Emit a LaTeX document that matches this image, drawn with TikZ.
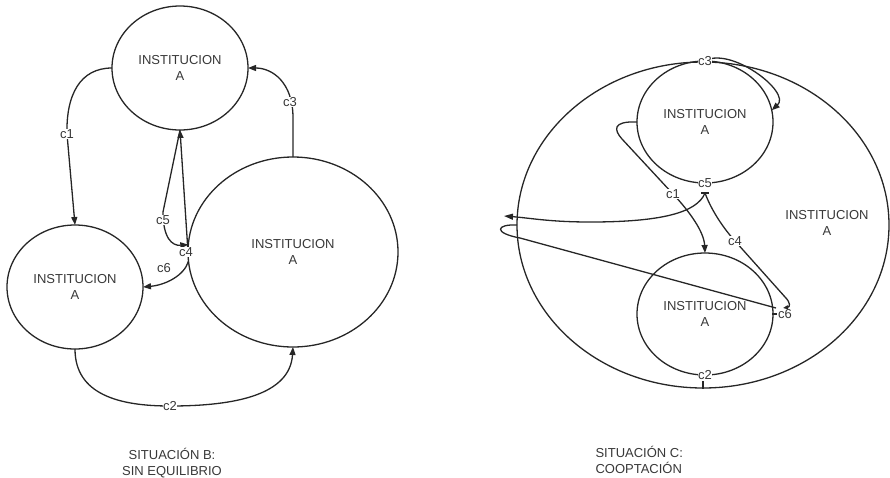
\documentclass[tikz,border=0pt]{standalone}
\usepackage{fontspec}
\setmainfont{Liberation Sans}
\usetikzlibrary{shapes.geometric,arrows.meta}
\begin{document}
\begin{tikzpicture}[x=1pt,y=-1pt,
  inst/.style={draw=black!85, line width=1.3pt, ellipse, inner sep=0pt, outer sep=0pt, align=center, font=\fontsize{13}{16}\selectfont, text=black!78},
  txt/.style={align=center, font=\fontsize{13}{16}\selectfont, text=black!78},
  conn/.style={draw=black!85, line width=1.3pt},
  arr/.style={conn, -{Triangle[length=8pt,width=6pt]}},
  lbl/.style={fill=white, inner sep=0.6pt, font=\fontsize{13}{14}\selectfont, text=black!78},
  captext/.style={font=\fontsize{13}{16}\selectfont, text=black!78}]
\useasboundingbox (0,0) rectangle (890,477);

% ---------------- Situation B ----------------
\node[inst, minimum width=136pt, minimum height=124pt] (tA) at (180,68) {INSTITUCION\\A};
\node[inst, minimum width=136pt, minimum height=124pt] (lA) at (75,287) {INSTITUCION\\A};
\node[inst, minimum width=210pt, minimum height=190pt] (bA) at (293,252) {INSTITUCION\\A};

\draw[arr] (tA.west) .. controls (80,68) and (66,95) .. (67,134) -- (lA.north);
\draw[arr] (bA.north) -- (293,118) .. controls (293,82) and (272,68) .. (tA.east);
\draw[arr] (lA.south) .. controls (75,395) and (120,406) .. (170,406) .. controls (235,406) and (290,395) .. (bA.south);
\draw[arr] (bA.west) -- (tA.south);
\draw[arr] (tA.south) -- (163,212) .. controls (163,238) and (172,246) .. (bA.176);
\draw[arr] (bA.185) .. controls (184,276) and (165,285) .. (lA.east);

\node[lbl] (b1) at (67,134) {c1};
\node[lbl] (b3) at (290,102) {c3};
\node[lbl] (b2) at (170,406) {c2};
\node[lbl] (b5) at (163,220) {c5};
\node[lbl] (b4) at (186,252) {c4};
\node[lbl] (b6) at (164,268) {c6};

\node[captext, align=center] (capB) at (172,463) {SITUACIÓN B:\\SIN EQUILIBRIO};

% ---------------- Situation C ----------------
\node[inst, minimum width=372pt, minimum height=326pt] (bigC) at (703,225) {};
\node[inst, minimum width=136pt, minimum height=122pt] (tC) at (705,122) {INSTITUCION\\A};
\node[inst, minimum width=136pt, minimum height=122pt] (bC) at (705,314) {INSTITUCION\\A};
\node[txt] (bigCl) at (827,223) {INSTITUCION\\A};

\coordinate (c5p) at (705,193);
\coordinate (c5end) at (504,216);
\coordinate (c6p) at (776,308);

\draw[arr] (bigC.north) .. controls (728,44) and (792,92) .. (tC.10);
\draw[arr] (tC.west) .. controls (612,121) and (614,130) .. (622,139) -- (673,194) .. controls (690,212) and (704,232) .. (bC.north);
\draw[conn, -{Triangle[length=9pt,width=6pt]}] (c5p) .. controls (697,213) and (660,222) .. (590,222) .. controls (550,222) and (530,218) .. (c5end);
\draw[conn, -{Triangle[length=5pt,width=4pt]}] (c5p) .. controls (712,212) and (725,230) .. (735,241) -- (785,297) .. controls (791,303) and (790,307) .. (783,308);
\draw[conn] (bigC.west) .. controls (496,224) and (493,233) .. (520,238) -- (c6p);
\draw[conn] (701,193) -- (709,193);
\draw[conn] (772,314) -- (777,314);

\node[lbl] (k3) at (705,61) {c3};
\node[lbl] (k5) at (705,183) {c5};
\node[lbl] (k1) at (673,194) {c1};
\node[lbl] (k4) at (735,241) {c4};
\node[lbl] (k6) at (785,314) {c6};
\node[lbl] (k2) at (705,375) {c2};
\draw[conn] (k2.south) ++(-2,1) -- ++(0,8);

\node[captext, align=left, anchor=west] (capC) at (592,460) {SITUACIÓN C:\\COOPTACIÓN};
\end{tikzpicture}
\end{document}
